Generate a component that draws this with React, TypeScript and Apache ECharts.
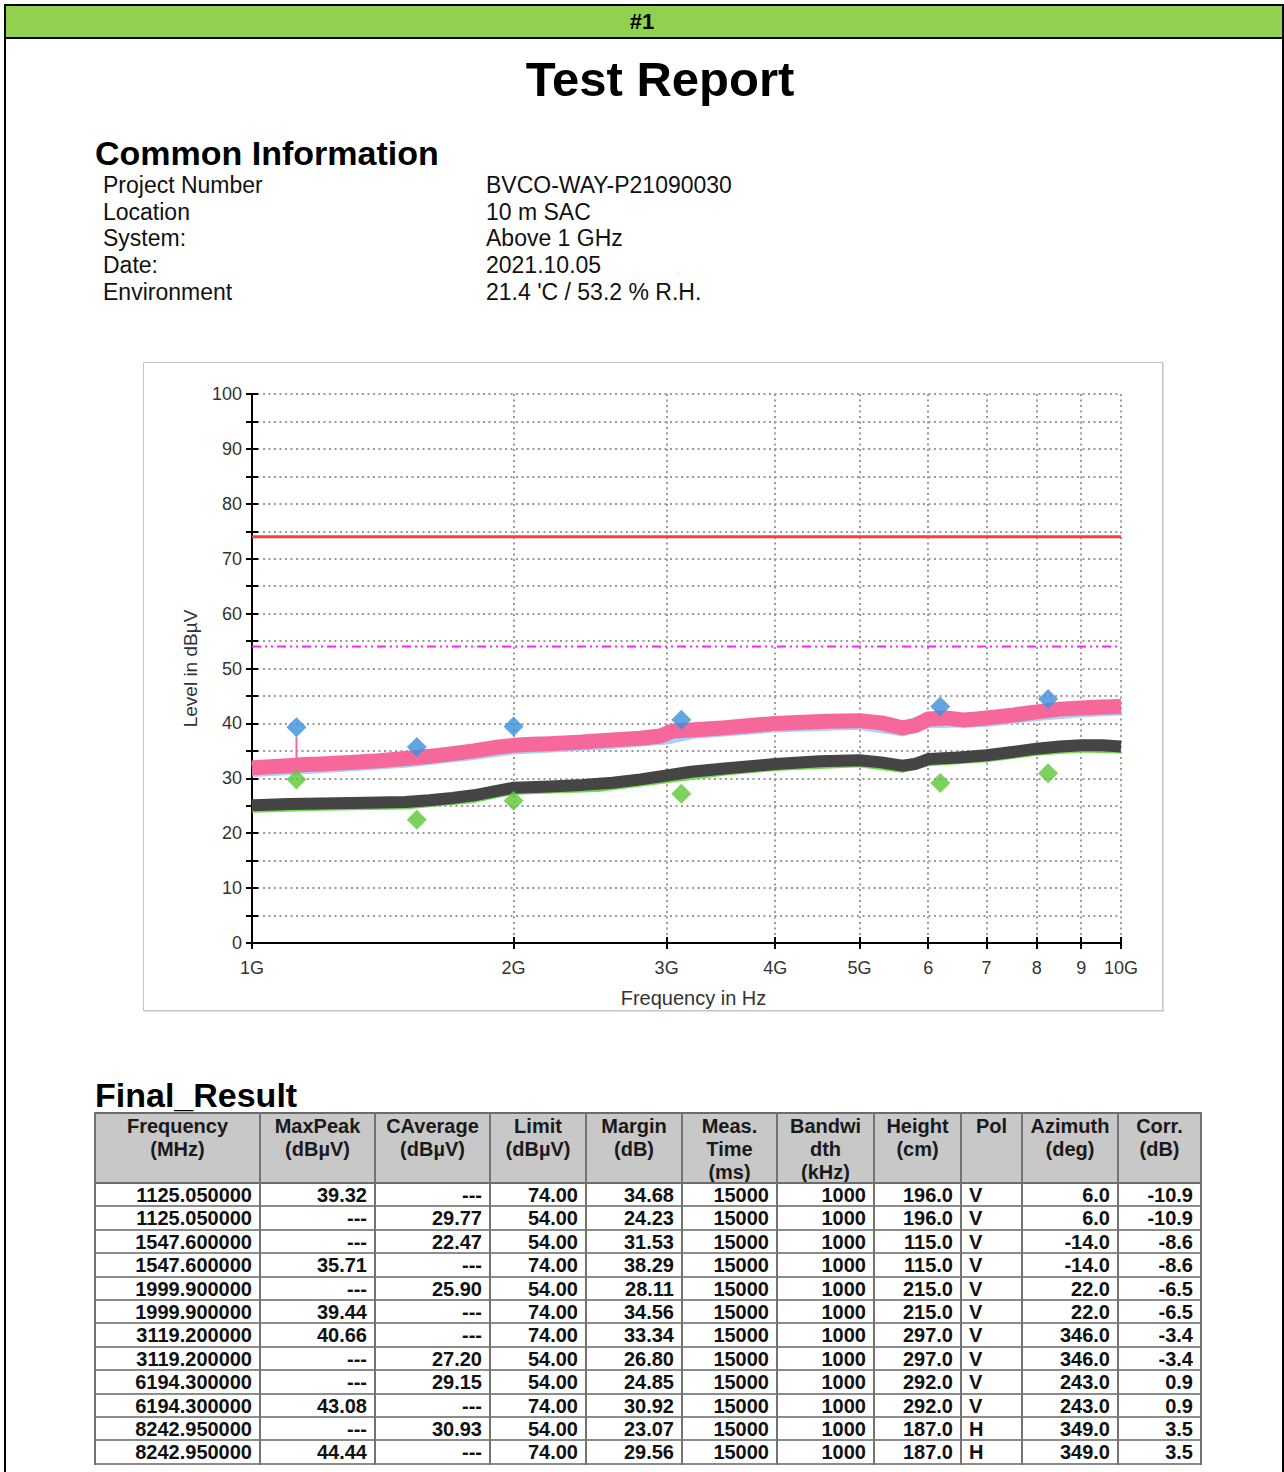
import React, { useEffect, useRef } from 'react';
import * as echarts from 'echarts';

const FONT = '"Liberation Sans", Arial, Helvetica, sans-serif';

// ---------- Common information ----------
const infoLabels = ['Project Number', 'Location', 'System:', 'Date:', 'Environment'];
const infoValues = ['BVCO-WAY-P21090030', '10 m SAC', 'Above 1 GHz', '2021.10.05', "21.4 'C / 53.2 % R.H."];

// ---------- Final result table ----------
const tableHeaders = [
  'Frequency\n(MHz)', 'MaxPeak\n(dBµV)', 'CAverage\n(dBµV)', 'Limit\n(dBµV)', 'Margin\n(dB)',
  'Meas.\nTime\n(ms)', 'Bandwi\ndth\n(kHz)', 'Height\n(cm)', 'Pol', 'Azimuth\n(deg)', 'Corr.\n(dB)',
];
const resultFreq = [1125.05, 1125.05, 1547.6, 1547.6, 1999.9, 1999.9, 3119.2, 3119.2, 6194.3, 6194.3, 8242.95, 8242.95];
const resultMaxPeak: (number | null)[] = [39.32, null, null, 35.71, null, 39.44, 40.66, null, null, 43.08, null, 44.44];
const resultCAverage: (number | null)[] = [null, 29.77, 22.47, null, 25.9, null, null, 27.2, 29.15, null, 30.93, null];
const resultLimit = [74, 54, 54, 74, 54, 74, 74, 54, 54, 74, 54, 74];
const resultMargin = [34.68, 24.23, 31.53, 38.29, 28.11, 34.56, 33.34, 26.8, 24.85, 30.92, 23.07, 29.56];
const resultMeasTime = [15000, 15000, 15000, 15000, 15000, 15000, 15000, 15000, 15000, 15000, 15000, 15000];
const resultBandwidth = [1000, 1000, 1000, 1000, 1000, 1000, 1000, 1000, 1000, 1000, 1000, 1000];
const resultHeight = [196, 196, 115, 115, 215, 215, 297, 297, 292, 292, 187, 187];
const resultPol = ['V', 'V', 'V', 'V', 'V', 'V', 'V', 'V', 'V', 'V', 'H', 'H'];
const resultAzimuth = [6, 6, -14, -14, 22, 22, 346, 346, 243, 243, 349, 349];
const resultCorr = [-10.9, -10.9, -8.6, -8.6, -6.5, -6.5, -3.4, -3.4, 0.9, 0.9, 3.5, 3.5];

// ---------- Chart traces (MHz, dBµV) ----------
const peakFreq = [1000, 1050, 1100, 1150, 1200, 1300, 1400, 1500, 1600, 1700, 1800, 1900, 2000, 2100, 2200, 2400, 2600, 2800, 2950, 3050, 3200, 3500, 3800, 4000, 4300, 4600, 5000, 5300, 5600, 5800, 6000, 6300, 6600, 7000, 7500, 8000, 8500, 9000, 9500, 10000];
const peakVal = [31.9, 32.1, 32.3, 32.5, 32.6, 32.9, 33.2, 33.6, 34.0, 34.5, 35.0, 35.6, 36.0, 36.2, 36.3, 36.6, 37.0, 37.3, 37.7, 38.6, 38.8, 39.2, 39.7, 40.0, 40.2, 40.4, 40.5, 40.1, 39.2, 39.6, 40.8, 41.0, 40.6, 41.0, 41.5, 42.1, 42.6, 42.8, 43.0, 43.1];
const peak2Freq = [1000, 1200, 1500, 1800, 2000, 2500, 3000, 3200, 4000, 5000, 5600, 6000, 7000, 8000, 9000, 10000];
const peak2Val = [31.6, 32.3, 33.3, 34.7, 35.7, 36.5, 37.5, 38.5, 39.7, 40.2, 39.0, 40.5, 40.7, 41.8, 42.5, 42.8];
const avgFreq = [1000, 1100, 1200, 1300, 1400, 1500, 1600, 1700, 1800, 1900, 2000, 2200, 2400, 2600, 2800, 3000, 3200, 3500, 4000, 4500, 5000, 5300, 5600, 5800, 6000, 6500, 7000, 7500, 8000, 8500, 9000, 9500, 10000];
const avgVal = [25.1, 25.3, 25.4, 25.5, 25.6, 25.7, 26.0, 26.4, 26.9, 27.6, 28.3, 28.5, 28.8, 29.2, 29.8, 30.5, 31.2, 31.8, 32.6, 33.1, 33.3, 32.9, 32.3, 32.6, 33.5, 33.8, 34.2, 34.8, 35.4, 35.8, 36.0, 36.0, 35.8];
const avg2Freq = [1000, 1200, 1500, 1800, 2000, 2500, 3000, 3500, 4000, 5000, 5600, 6000, 7000, 8000, 9000, 10000];
const avg2Val = [24.8, 25.2, 25.4, 26.6, 28.1, 28.6, 30.2, 31.6, 32.4, 33.1, 32.1, 33.3, 34.0, 35.2, 35.8, 35.6];
const spikeFreq = [1125, 1125];
const spikeVal = [33, 37.5];
const limitFreq = [1000, 10000];
const peakLimit = [74, 74];
const avgLimit = [54, 54];

const xTickValues = [1000, 2000, 3000, 4000, 5000, 6000, 7000, 8000, 9000, 10000];
const xTickLabels = ['1G', '2G', '3G', '4G', '5G', '6', '7', '8', '9', '10G'];

const pairs = (xs: number[], ys: (number | null)[]) => xs.map((x, i) => [x, ys[i]]).filter((p) => p[1] !== null);

function buildOption(): any {
  const splitStyle = { color: '#9a9a9a', width: 2, type: [2, 3.5] as any };
  const xFormatter = (v: number) => {
    const i = xTickValues.findIndex((t) => Math.abs(t - v) < 1);
    return i >= 0 ? xTickLabels[i] : '';
  };
  const yFormatter = (v: number) => (Math.round(v) % 10 === 0 ? String(Math.round(v)) : '');
  const baseX = { type: 'log', logBase: 10, min: 1000, max: 10000, position: 'bottom' };
  const baseY = { type: 'value', min: 0, max: 100, interval: 5, position: 'left' };
  const line = (name: string, xs: number[], ys: number[], color: string, width: number, z: number, type: any = 'solid') => ({
    name, type: 'line', data: pairs(xs, ys), showSymbol: false, symbol: 'none', silent: true,
    lineStyle: { color, width, type, cap: 'butt', join: 'round' }, z,
  });
  return {
    animation: false,
    grid: { left: 108, top: 31, width: 869, height: 549, containLabel: false, outerBoundsMode: 'none' },
    xAxis: [
      {
        ...baseX,
        name: 'Frequency in Hz',
        nameLocation: 'middle',
        nameGap: 45,
        nameTextStyle: { fontFamily: FONT, fontSize: 20, color: '#333', padding: [0, 0, 0, 14] },
        axisLine: { show: true, lineStyle: { color: '#000', width: 2 } },
        axisTick: { show: true, inside: false, length: 6, lineStyle: { color: '#000', width: 2 }, customValues: xTickValues },
        axisLabel: {
          show: true, customValues: xTickValues, formatter: xFormatter, margin: 16, fontFamily: FONT, fontSize: 18, color: '#333',
          alignMinLabel: 'center', alignMaxLabel: 'center',
        },
        splitLine: { show: true, lineStyle: splitStyle },
      },
      {
        ...baseX,
        axisLine: { show: false },
        axisTick: { show: true, inside: true, length: 6, lineStyle: { color: '#000', width: 2 }, customValues: xTickValues },
        axisLabel: { show: false, customValues: xTickValues },
        splitLine: { show: false },
      },
    ],
    yAxis: [
      {
        ...baseY,
        name: 'Level in dBµV',
        nameLocation: 'middle',
        nameGap: 52,
        nameRotate: 90,
        nameTextStyle: { fontFamily: FONT, fontSize: 19, color: '#333' },
        axisLine: { show: true, lineStyle: { color: '#000', width: 2 } },
        axisTick: { show: true, inside: false, length: 6, interval: 0, lineStyle: { color: '#000', width: 2 } },
        axisLabel: {
          show: true, formatter: yFormatter, margin: 10, fontFamily: FONT, fontSize: 18, color: '#333',
          verticalAlignMinLabel: 'middle', verticalAlignMaxLabel: 'middle',
        },
        splitLine: { show: true, lineStyle: splitStyle },
      },
      {
        ...baseY,
        axisLine: { show: false },
        axisTick: { show: true, inside: true, length: 6, interval: 0, lineStyle: { color: '#000', width: 2 } },
        axisLabel: { show: false },
        splitLine: { show: false },
      },
    ],
    series: [
      line('Peak (2)', peak2Freq, peak2Val, '#a9d2f8', 15, 2),
      line('MaxPeak trace', peakFreq, peakVal, '#f7689a', 15, 3),
      line('Spike', spikeFreq, spikeVal, '#f7689a', 2, 3),
      line('Average (2)', avg2Freq, avg2Val, '#74d94c', 12, 2),
      line('CAverage trace', avgFreq, avgVal, '#454545', 12, 3),
      line('Peak limit', limitFreq, peakLimit, '#ff3b3b', 3, 4),
      line('Average limit', limitFreq, avgLimit, '#ff22ff', 2, 4, [9, 4, 2, 4, 2, 4]),
      {
        name: 'MaxPeak', type: 'scatter', data: pairs(resultFreq, resultMaxPeak), symbol: 'diamond', symbolSize: 20,
        itemStyle: { color: '#3b8fdc' }, z: 6,
      },
      {
        name: 'CAverage', type: 'scatter', data: pairs(resultFreq, resultCAverage), symbol: 'diamond', symbolSize: 20,
        itemStyle: { color: '#5cc534' }, z: 6,
      },
    ],
  };
}

function Chart() {
  const ref = useRef<HTMLDivElement>(null);
  useEffect(() => {
    if (!ref.current) return;
    const chart = echarts.init(ref.current, null, { renderer: 'svg' });
    chart.setOption(buildOption());
    return () => chart.dispose();
  }, []);
  return <div ref={ref} style={{ position: 'absolute', left: 0, top: 0, width: 1018, height: 647 }} />;
}

const colEdges = [95, 260, 375, 490, 586, 682, 777, 874, 961, 1022, 1118, 1201];
const TABLE_TOP = 1113;
const HEADER_BOTTOM = 1183;
const ROW_H = 23.4;

function cellText(r: number, c: number): string {
  const dash = '---';
  switch (c) {
    case 0: return resultFreq[r].toFixed(6);
    case 1: return resultMaxPeak[r] === null ? dash : (resultMaxPeak[r] as number).toFixed(2);
    case 2: return resultCAverage[r] === null ? dash : (resultCAverage[r] as number).toFixed(2);
    case 3: return resultLimit[r].toFixed(2);
    case 4: return resultMargin[r].toFixed(2);
    case 5: return String(resultMeasTime[r]);
    case 6: return String(resultBandwidth[r]);
    case 7: return resultHeight[r].toFixed(1);
    case 8: return resultPol[r];
    case 9: return resultAzimuth[r].toFixed(1);
    default: return resultCorr[r].toFixed(1);
  }
}

function ResultTable() {
  const nRows = resultFreq.length;
  const bottom = HEADER_BOTTOM + nRows * ROW_H;
  const els: React.ReactNode[] = [];
  els.push(
    <div key="hbg" style={{ position: 'absolute', left: colEdges[0], top: TABLE_TOP, width: colEdges[colEdges.length - 1] - colEdges[0], height: HEADER_BOTTOM - TABLE_TOP, background: '#c8c8c8' }} />
  );
  tableHeaders.forEach((h, c) => {
    els.push(
      <div key={'h' + c} style={{
        position: 'absolute', left: colEdges[c], top: TABLE_TOP + 2, width: colEdges[c + 1] - colEdges[c],
        textAlign: 'center', fontFamily: FONT, fontWeight: 'bold', fontSize: 20, lineHeight: '23px', color: '#1a1a1a', whiteSpace: 'pre',
      }}>{h}</div>
    );
  });
  for (let r = 0; r < nRows; r++) {
    for (let c = 0; c < tableHeaders.length; c++) {
      const left = c === 8;
      els.push(
        <div key={'d' + r + '_' + c} style={{
          position: 'absolute', left: colEdges[c], top: HEADER_BOTTOM + r * ROW_H + 1, width: colEdges[c + 1] - colEdges[c],
          height: ROW_H, boxSizing: 'border-box', paddingLeft: left ? 8 : 0, paddingRight: left ? 0 : 8,
          textAlign: left ? 'left' : 'right', fontFamily: FONT, fontWeight: 'bold', fontSize: 20, lineHeight: ROW_H + 'px', color: '#111', whiteSpace: 'pre',
        }}>{cellText(r, c)}</div>
      );
    }
  }
  const hLines = [TABLE_TOP, HEADER_BOTTOM];
  for (let r = 1; r <= nRows; r++) hLines.push(HEADER_BOTTOM + r * ROW_H);
  hLines.forEach((y, i) => {
    els.push(
      <div key={'hl' + i} style={{ position: 'absolute', left: colEdges[0], top: y - 1, width: colEdges[colEdges.length - 1] - colEdges[0] + 1, height: 2, background: i < 2 ? '#6a6a6a' : '#8c8c8c' }} />
    );
  });
  colEdges.forEach((x, i) => {
    els.push(
      <div key={'vl' + i} style={{ position: 'absolute', left: x - 1, top: TABLE_TOP - 1, width: 2, height: bottom - TABLE_TOP + 2, background: '#737373' }} />
    );
  });
  return <>{els}</>;
}

export default function App() {
  return (
    <div style={{ position: 'absolute', left: 0, top: 0, width: 1284, height: 1472, overflow: 'hidden', background: '#fff', fontFamily: FONT }}>
      <div style={{ position: 'absolute', left: 4, top: 4, width: 1280, height: 1490, border: '2px solid #000', boxSizing: 'border-box' }} />
      <div style={{ position: 'absolute', left: 6, top: 6, width: 1276, height: 31, background: '#92d050', borderBottom: '2px solid #000' }} />
      <div style={{ position: 'absolute', left: 542, top: 11, width: 200, textAlign: 'center', fontSize: 22, lineHeight: '22px', fontWeight: 'bold', color: '#000' }}>#1</div>
      <div style={{ position: 'absolute', left: 460, top: 55, width: 400, textAlign: 'center', fontSize: 49, lineHeight: '49px', fontWeight: 'bold', color: '#000' }}>Test Report</div>
      <div style={{ position: 'absolute', left: 95, top: 136, fontSize: 34, lineHeight: '34px', fontWeight: 'bold', color: '#000', whiteSpace: 'pre' }}>Common Information</div>
      {infoLabels.map((t, i) => (
        <div key={'il' + i} style={{ position: 'absolute', left: 103, top: 174 + i * 26.7, fontSize: 23, lineHeight: '23px', color: '#111', whiteSpace: 'pre' }}>{t}</div>
      ))}
      {infoValues.map((t, i) => (
        <div key={'iv' + i} style={{ position: 'absolute', left: 486, top: 174 + i * 26.7, fontSize: 23, lineHeight: '23px', color: '#111', whiteSpace: 'pre' }}>{t}</div>
      ))}
      <div style={{ position: 'absolute', left: 143, top: 362, width: 1020, height: 649, border: '1px solid #c4c4c4', boxSizing: 'border-box', boxShadow: '1px 1px 1px #e0e0e0', background: '#fff' }}>
        <Chart />
      </div>
      <div style={{ position: 'absolute', left: 95, top: 1078, fontSize: 34, lineHeight: '34px', fontWeight: 'bold', color: '#000', whiteSpace: 'pre' }}>Final_Result</div>
      <ResultTable />
    </div>
  );
}
